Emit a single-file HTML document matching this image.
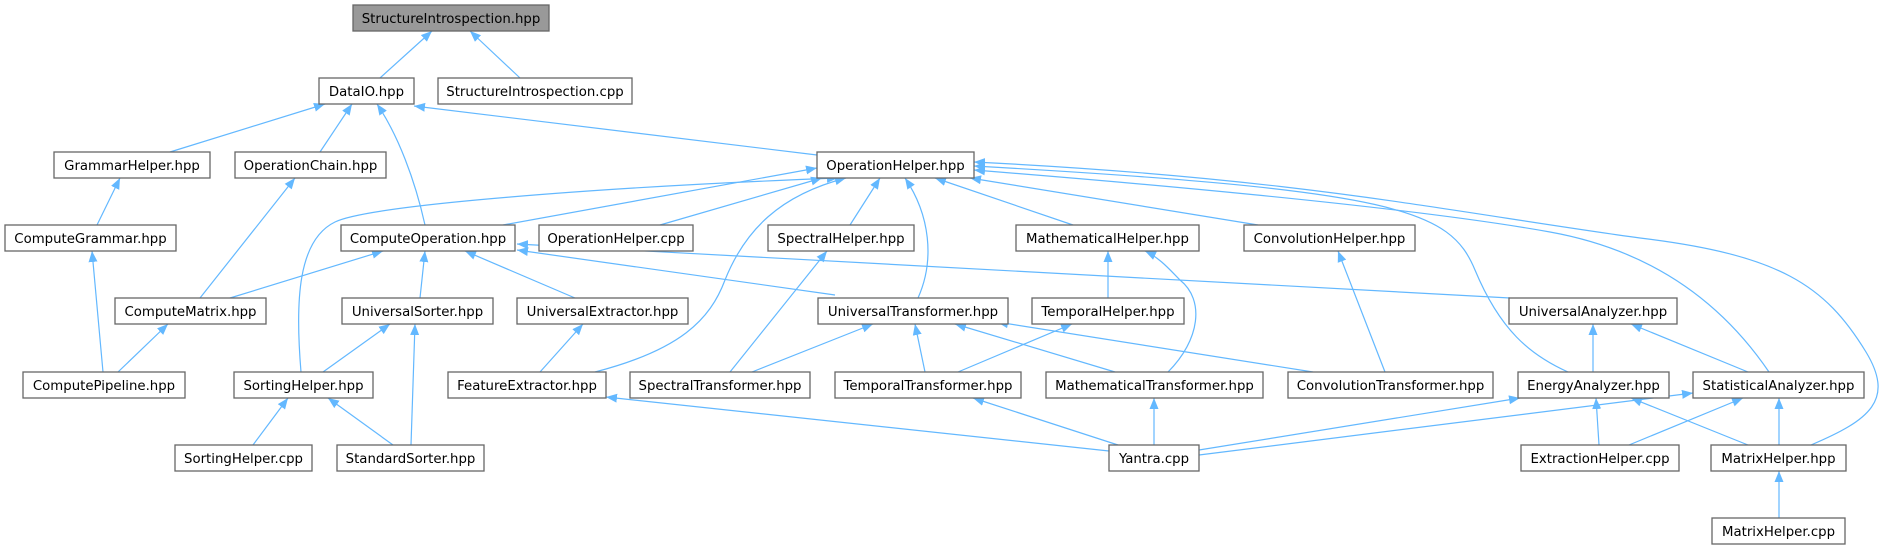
<!DOCTYPE html>
<html><head><meta charset="utf-8"><style>
html,body{margin:0;padding:0;background:#fff;}
svg{display:block;}
text{font-family:"DejaVu Sans","Liberation Sans",sans-serif;font-size:13.3px;fill:#000;text-anchor:middle;}
.b{fill:#fff;stroke:#666;stroke-width:1.3;}
.e{fill:none;stroke:#63b8ff;stroke-width:1.2;marker-end:url(#a);}
</style></head><body>
<svg width="1886" height="549" viewBox="0 0 1886 549" xmlns="http://www.w3.org/2000/svg">
<defs><marker id="a" markerUnits="userSpaceOnUse" markerWidth="12" markerHeight="10" refX="11" refY="4.5" orient="auto"><path d="M0,0 L11,4.5 L0,9 z" fill="#63b8ff"/></marker></defs>
<g>
<path class="e" d="M380,78 L432,31"/>
<path class="e" d="M520,78 L470,31"/>
<path class="e" d="M170,152 L325,104"/>
<path class="e" d="M320,152 L352,104"/>
<path class="e" d="M425,225 C415,180 398,135 377,104"/>
<path class="e" d="M817,155 L414,106"/>
<path class="e" d="M97,225 L120,178"/>
<path class="e" d="M200,298 L295,178"/>
<path class="e" d="M103,372 L92,251"/>
<path class="e" d="M118,372 L168,324"/>
<path class="e" d="M503,225 L817,168"/>
<path class="e" d="M660,225 L822,178"/>
<path class="e" d="M301,372 C295,300 298,240 335,222 C370,205 600,187 838,178"/>
<path class="e" d="M595,372 C680,350 710,320 725,280 C745,230 780,195 846,178"/>
<path class="e" d="M850,225 L880,178"/>
<path class="e" d="M918,298 C935,260 930,215 905,178"/>
<path class="e" d="M1073,225 L935,178"/>
<path class="e" d="M1258,225 L970,178"/>
<path class="e" d="M1568,372 C1530,355 1500,330 1475,270 C1450,210 1400,190 974,166"/>
<path class="e" d="M1769,372 C1720,300 1650,250 1550,232 C1400,205 1100,180 974,170"/>
<path class="e" d="M1811,445 C1870,420 1895,400 1866,352 C1825,285 1780,255 1640,238 C1450,212 1300,178 974,162"/>
<path class="e" d="M230,298 L383,251"/>
<path class="e" d="M420,298 L425,251"/>
<path class="e" d="M575,298 L465,251"/>
<path class="e" d="M835,295 L517,250"/>
<path class="e" d="M1510,298 L517,244"/>
<path class="e" d="M323,372 L390,324"/>
<path class="e" d="M411,445 L415,324"/>
<path class="e" d="M393,445 L328,398"/>
<path class="e" d="M253,445 L288,398"/>
<path class="e" d="M540,372 L583,324"/>
<path class="e" d="M730,372 L827,251"/>
<path class="e" d="M752,372 L873,324"/>
<path class="e" d="M925,372 L915,324"/>
<path class="e" d="M1115,372 L955,324"/>
<path class="e" d="M1313,372 L997,322"/>
<path class="e" d="M1108,298 L1108,251"/>
<path class="e" d="M1168,372 C1200,340 1205,300 1180,280 C1170,270 1160,258 1145,251"/>
<path class="e" d="M958,372 L1072,324"/>
<path class="e" d="M1385,372 L1338,251"/>
<path class="e" d="M1593,372 L1593,324"/>
<path class="e" d="M1748,372 L1631,324"/>
<path class="e" d="M1109,451 L606,397"/>
<path class="e" d="M1118,445 L973,398"/>
<path class="e" d="M1154,445 L1154,398"/>
<path class="e" d="M1199,450 L1520,398"/>
<path class="e" d="M1199,455 L1693,393"/>
<path class="e" d="M1599,445 L1596,398"/>
<path class="e" d="M1629,445 L1743,398"/>
<path class="e" d="M1748,445 L1631,398"/>
<path class="e" d="M1779,445 L1779,398"/>
<path class="e" d="M1779,518 L1779,471"/>
</g>
<g>
<rect x="353" y="5" width="196" height="26" style="fill:#999;stroke:#666;stroke-width:1.3"/><text x="451" y="23">StructureIntrospection.hpp</text>
<rect class="b" x="319" y="78" width="95" height="26"/><text x="366.5" y="96">DataIO.hpp</text>
<rect class="b" x="438" y="78" width="194" height="26"/><text x="535" y="96">StructureIntrospection.cpp</text>
<rect class="b" x="54" y="152" width="156" height="26"/><text x="132" y="170">GrammarHelper.hpp</text>
<rect class="b" x="235" y="152" width="151" height="26"/><text x="310.5" y="170">OperationChain.hpp</text>
<rect class="b" x="817" y="152" width="157" height="26"/><text x="895.5" y="170">OperationHelper.hpp</text>
<rect class="b" x="5" y="225" width="171" height="26"/><text x="90.5" y="243">ComputeGrammar.hpp</text>
<rect class="b" x="341" y="225" width="174" height="26"/><text x="428" y="243">ComputeOperation.hpp</text>
<rect class="b" x="539" y="225" width="154" height="26"/><text x="616" y="243">OperationHelper.cpp</text>
<rect class="b" x="768" y="225" width="146" height="26"/><text x="841" y="243">SpectralHelper.hpp</text>
<rect class="b" x="1016" y="225" width="183" height="26"/><text x="1107.5" y="243">MathematicalHelper.hpp</text>
<rect class="b" x="1244" y="225" width="171" height="26"/><text x="1329.5" y="243">ConvolutionHelper.hpp</text>
<rect class="b" x="115" y="298" width="151" height="26"/><text x="190.5" y="316">ComputeMatrix.hpp</text>
<rect class="b" x="342" y="298" width="151" height="26"/><text x="417.5" y="316">UniversalSorter.hpp</text>
<rect class="b" x="517" y="298" width="171" height="26"/><text x="602.5" y="316">UniversalExtractor.hpp</text>
<rect class="b" x="818" y="298" width="190" height="26"/><text x="913" y="316">UniversalTransformer.hpp</text>
<rect class="b" x="1032" y="298" width="152" height="26"/><text x="1108" y="316">TemporalHelper.hpp</text>
<rect class="b" x="1509" y="298" width="168" height="26"/><text x="1593" y="316">UniversalAnalyzer.hpp</text>
<rect class="b" x="23" y="372" width="162" height="26"/><text x="104" y="390">ComputePipeline.hpp</text>
<rect class="b" x="234" y="372" width="139" height="26"/><text x="303.5" y="390">SortingHelper.hpp</text>
<rect class="b" x="448" y="372" width="158" height="26"/><text x="527" y="390">FeatureExtractor.hpp</text>
<rect class="b" x="630" y="372" width="180" height="26"/><text x="720" y="390">SpectralTransformer.hpp</text>
<rect class="b" x="835" y="372" width="186" height="26"/><text x="928" y="390">TemporalTransformer.hpp</text>
<rect class="b" x="1046" y="372" width="217" height="26"/><text x="1154.5" y="390">MathematicalTransformer.hpp</text>
<rect class="b" x="1288" y="372" width="205" height="26"/><text x="1390.5" y="390">ConvolutionTransformer.hpp</text>
<rect class="b" x="1518" y="372" width="151" height="26"/><text x="1593.5" y="390">EnergyAnalyzer.hpp</text>
<rect class="b" x="1693" y="372" width="171" height="26"/><text x="1778.5" y="390">StatisticalAnalyzer.hpp</text>
<rect class="b" x="175" y="445" width="137" height="26"/><text x="243.5" y="463">SortingHelper.cpp</text>
<rect class="b" x="337" y="445" width="147" height="26"/><text x="410.5" y="463">StandardSorter.hpp</text>
<rect class="b" x="1109" y="445" width="90" height="26"/><text x="1154" y="463">Yantra.cpp</text>
<rect class="b" x="1521" y="445" width="158" height="26"/><text x="1600" y="463">ExtractionHelper.cpp</text>
<rect class="b" x="1711" y="445" width="135" height="26"/><text x="1778.5" y="463">MatrixHelper.hpp</text>
<rect class="b" x="1712" y="518" width="133" height="26"/><text x="1778.5" y="536">MatrixHelper.cpp</text>
</g>
</svg>
</body></html>
